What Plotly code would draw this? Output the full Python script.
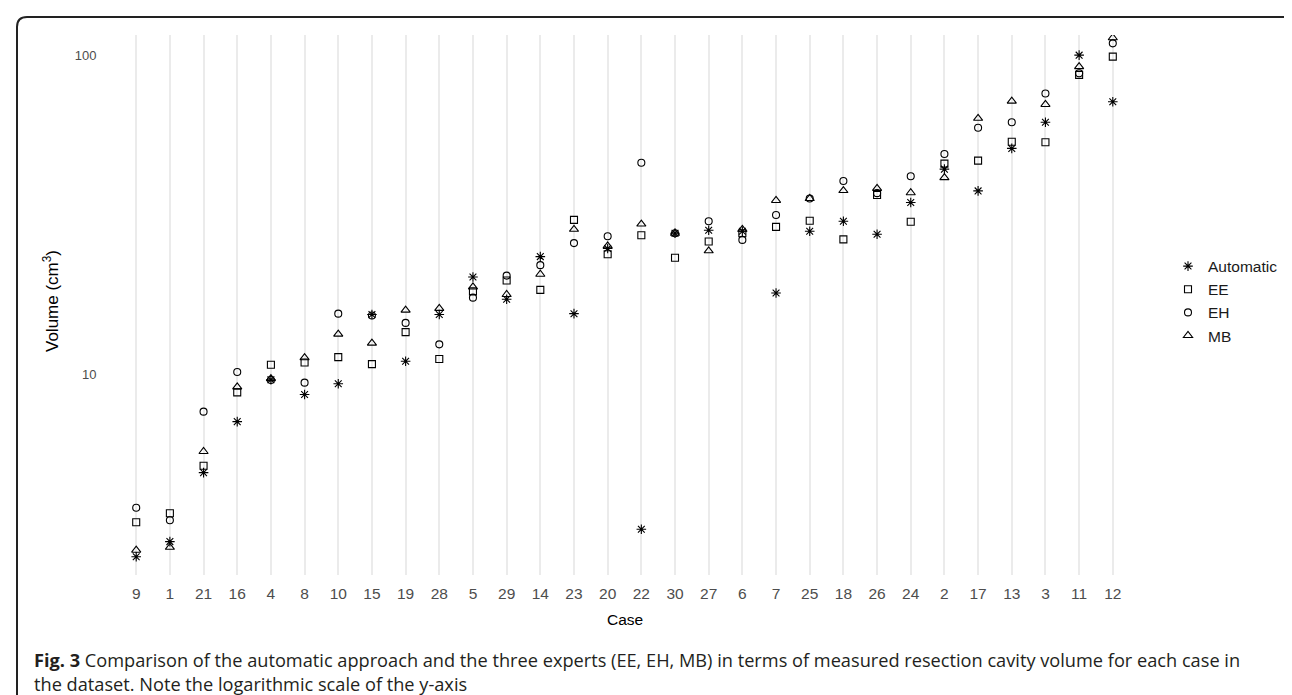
import plotly.graph_objects as go

cases = ["9", "1", "21", "16", "4", "8", "10", "15", "19", "28", "5", "29", "14", "23", "20",
         "22", "30", "27", "6", "7", "25", "18", "26", "24", "2", "17", "13", "3", "11", "12"]

automatic = [2.68, 2.99, 4.92, 7.11, 9.62, 8.65, 9.35, 15.4, 10.99, 15.4, 20.2, 17.2, 23.4, 15.5, 24.8,
             3.27, 27.7, 28.3, 28.1, 18.0, 28.1, 30.2, 27.5, 34.6, 44.0, 37.6, 51.1, 61.7, 100.2, 71.6]
ee = [3.44, 3.67, 5.17, 8.78, 10.72, 10.9, 11.33, 10.77, 13.57, 11.17, 18.2, 19.7, 18.4, 30.5, 23.8,
      27.3, 23.2, 26.1, 27.7, 29.0, 30.3, 26.5, 36.5, 30.1, 45.8, 46.8, 53.6, 53.4, 86.9, 99.1]
eh = [3.82, 3.49, 7.64, 10.17, 9.6, 9.42, 15.5, 15.3, 14.5, 12.42, 17.4, 20.4, 22.0, 25.8, 27.1,
      46.1, 27.7, 30.2, 26.4, 31.6, 35.6, 40.4, 37.0, 41.8, 49.1, 59.3, 61.7, 76.0, 87.9, 109.1]
mb = [2.81, 2.87, 5.73, 9.14, 9.7, 11.28, 13.37, 12.53, 15.9, 16.1, 18.8, 17.8, 20.6, 28.5, 25.3,
      29.6, 27.7, 24.4, 28.5, 35.1, 35.6, 37.7, 38.3, 37.1, 41.4, 63.5, 71.9, 70.2, 92.2, 113.6]

series = [("Automatic", automatic, "asterisk-open", 8),
          ("EE", ee, "square-open", 7),
          ("EH", eh, "circle-open", 7),
          ("MB", mb, "triangle-up-open", 8)]

caption_lines = [
    "<b>Fig. 3</b> Comparison of the automatic approach and the three experts (EE, EH, MB) in terms of measured resection cavity volume for each case in",
    "the dataset. Note the logarithmic scale of the y-axis",
]

W, H = 1292, 695
L, R, T, B = 108, 1125, 27, 567


def px(x):
    return (x - L) / (R - L)


def py(y):
    return (B - y) / (B - T)


fig = go.Figure()
for name, vals, sym, sz in series:
    fig.add_trace(go.Scatter(
        x=cases, y=vals, mode="markers", name=name,
        marker=dict(symbol=sym, size=sz, color="black",
                    line=dict(color="black", width=1.1)),
    ))

# rounded frame around the figure
r = 10
fx0, fy0, fx1, fy1 = 9, 9, 1295, 720
path = (f"M {px(fx0)} {py(fy1)} L {px(fx0)} {py(fy0 + r)} "
        f"Q {px(fx0)} {py(fy0)} {px(fx0 + r)} {py(fy0)} "
        f"L {px(fx1 - r)} {py(fy0)} "
        f"Q {px(fx1)} {py(fy0)} {px(fx1)} {py(fy0 + r)} "
        f"L {px(fx1)} {py(fy1)}")
fig.add_shape(type="path", path=path, xref="paper", yref="paper",
              line=dict(color="#222222", width=2), layer="above")

fig.add_annotation(text="Volume (cm<sup>3</sup>)", textangle=-90,
                   x=px(43), y=py(293), xref="paper", yref="paper",
                   xanchor="center", yanchor="middle",
                   showarrow=False, font=dict(size=17, color="black"))
fig.add_annotation(text="Case", x=0.5, y=py(611), xref="paper", yref="paper",
                   xanchor="center", yanchor="middle",
                   showarrow=False, font=dict(size=15.5, color="black"))

fig.add_annotation(
    text="<br>".join(caption_lines), align="left",
    x=px(24), y=py(664), xref="paper", yref="paper", xanchor="left", yanchor="middle",
    showarrow=False, font=dict(family="Open Sans", size=18.2, color="#231f20"))

fig.update_layout(
    width=W, height=H,
    margin=dict(l=L, r=W - R, t=T, b=H - B, pad=0),
    paper_bgcolor="white", plot_bgcolor="white",
    font=dict(family="Liberation Sans", color="black"),
    showlegend=True,
    legend=dict(x=px(1160), y=py(293), xanchor="left", yanchor="middle",
                font=dict(size=15.5, color="#1a1a1a"), bgcolor="rgba(0,0,0,0)",
                tracegroupgap=0),
    xaxis=dict(type="category", categoryorder="array", categoryarray=cases,
               range=[-0.6, len(cases) - 0.4],
               showgrid=True, gridcolor="#EBEBEB", gridwidth=1.6,
               zeroline=False, showline=False,
               ticks="outside", ticklen=4, tickcolor="rgba(0,0,0,0)",
               tickfont=dict(size=15.5, color="#4d4d4d")),
    yaxis=dict(type="log", range=[0.371, 2.064],
               tickvals=[10, 100], ticktext=["10", "100"],
               showgrid=False, zeroline=False, showline=False,
               ticks="outside", ticklen=16, tickcolor="rgba(0,0,0,0)",
               tickfont=dict(size=13, color="#4d4d4d")),
)

fig.write_html("out.html")
